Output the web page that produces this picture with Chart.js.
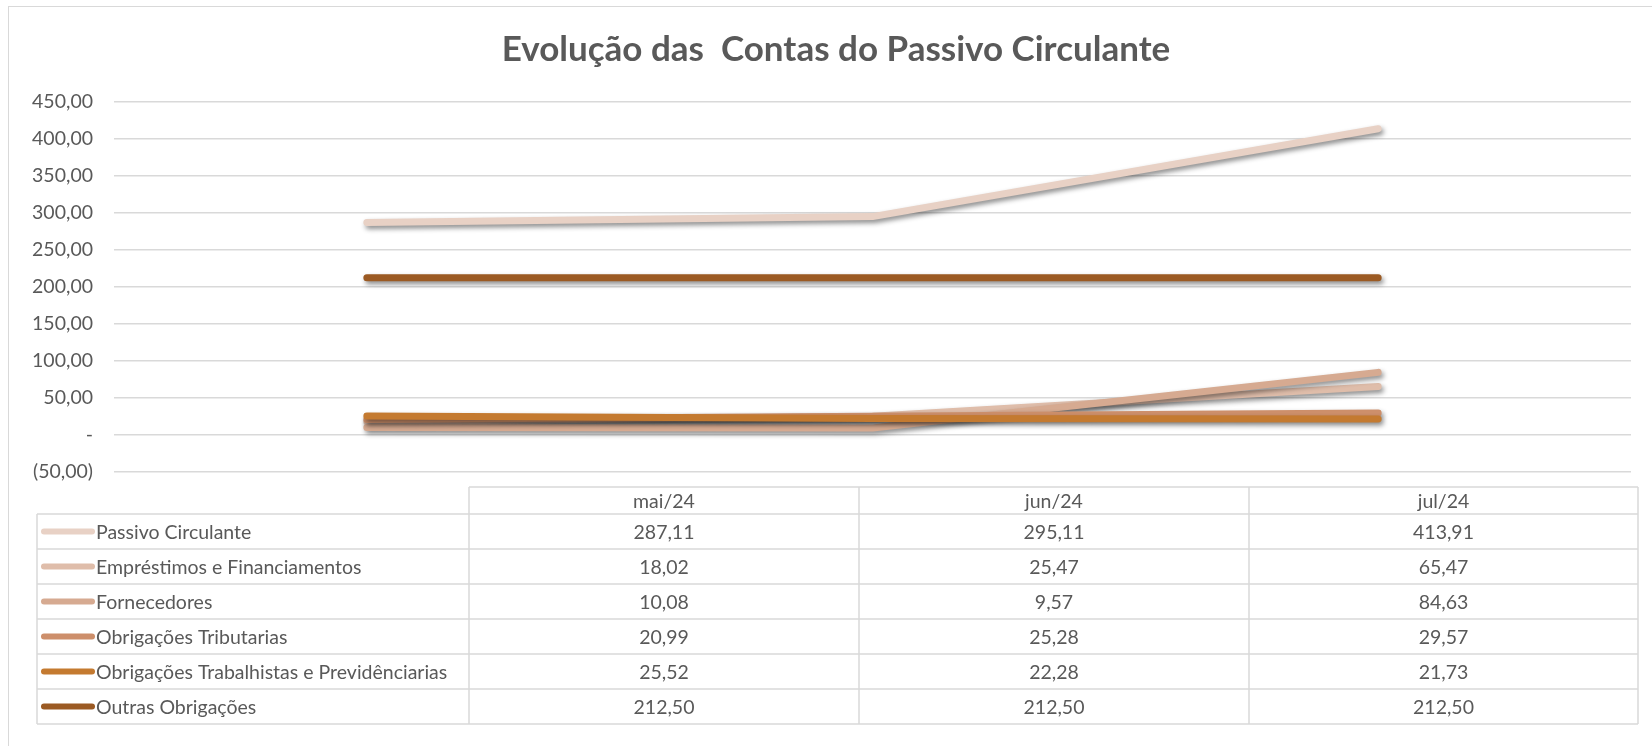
<!DOCTYPE html>
<html>
<head>
<meta charset="utf-8">
<script src="https://cdn.jsdelivr.net/npm/chart.js@4.4.1/dist/chart.umd.min.js"></script>
<style>
  html, body { margin: 0; padding: 0; background: #fff; }
  #frame {
    position: absolute; left: 8px; top: 6px; width: 1700px; height: 800px;
    border: 1.5px solid #d9d9d9; box-sizing: border-box;
  }
  #chartPassivo { position: absolute; left: 0; top: 0; }
</style>
</head>
<body>
<div id="frame"></div>
<canvas id="chartPassivo" width="1652" height="746"></canvas>
<script>
const months = ['mai/24', 'jun/24', 'jul/24'];

const seriesNames = [
    'Passivo Circulante',
    'Empréstimos e Financiamentos',
    'Fornecedores',
    'Obrigações Tributarias',
    'Obrigações Trabalhistas e Previdênciarias',
    'Outras Obrigações'
];

const passivoCirculante = [287.11, 295.11, 413.91];
const emprestimos = [18.02, 25.47, 65.47];
const fornecedores = [10.08, 9.57, 84.63];
const obrigTributarias = [20.99, 25.28, 29.57];
const obrigTrabalhistas = [25.52, 22.28, 21.73];
const outrasObrigacoes = [212.50, 212.50, 212.50];

const seriesColors = ['#e8d1c5', '#dfbdaa', '#d6aa91', '#cd8f6b', '#c47a30', '#9b5a23'];

const yTicks = { min: -50, max: 450, step: 50 };

const allSeries = [passivoCirculante, emprestimos, fornecedores, obrigTributarias, obrigTrabalhistas, outrasObrigacoes];

const FONT = 'Lato, "Open Sans", sans-serif';
const TEXT_COLOR = '#595959';

function fmtBR(v) {
    return v.toFixed(2).replace('.', ',');
}

function fmtAxis(v) {
    if (v === 0) return '-';
    if (v < 0) return '(' + fmtBR(-v) + ')';
    return fmtBR(v);
}

// sombra das linhas, como no Excel
const lineShadow = {
    id: 'lineShadow',
    beforeDatasetDraw(chart) {
        const ctx = chart.ctx;
        ctx.save();
        ctx.shadowColor = 'rgba(0, 0, 0, 0.45)';
        ctx.shadowBlur = 5;
        ctx.shadowOffsetX = 2;
        ctx.shadowOffsetY = 3;
    },
    afterDatasetDraw(chart) {
        chart.ctx.restore();
    }
};

// titulo
const titlePlugin = {
    id: 'titlePlugin',
    afterDraw(chart) {
        const ctx = chart.ctx;
        ctx.save();
        ctx.font = 'bold 35px ' + FONT;
        ctx.fillStyle = TEXT_COLOR;
        ctx.textAlign = 'center';
        ctx.textBaseline = 'middle';
        ctx.fillText('Evolução das  Contas do Passivo Circulante', 836, 50);
        ctx.restore();
    }
};

// tabela de dados abaixo do grafico
const dataTable = {
    id: 'dataTable',
    afterDraw(chart) {
        const ctx = chart.ctx;
        const cols = [37, 469, 859, 1249, 1638];
        const headTop = 487;
        const rowTop = 514;
        const rowH = 35;
        const nRows = seriesNames.length;
        const bottom = rowTop + rowH * nRows;

        ctx.save();
        ctx.strokeStyle = '#d9d9d9';
        ctx.lineWidth = 1.5;
        ctx.beginPath();
        ctx.moveTo(cols[1], headTop);
        ctx.lineTo(cols[4], headTop);
        for (let r = 0; r <= nRows; r++) {
            const y = rowTop + r * rowH;
            ctx.moveTo(cols[0], y);
            ctx.lineTo(cols[4], y);
        }
        ctx.moveTo(cols[0], rowTop);
        ctx.lineTo(cols[0], bottom);
        for (let c = 1; c < cols.length; c++) {
            ctx.moveTo(cols[c], headTop);
            ctx.lineTo(cols[c], bottom);
        }
        ctx.stroke();

        ctx.font = '19.5px ' + FONT;
        ctx.fillStyle = TEXT_COLOR;
        ctx.textBaseline = 'middle';
        ctx.textAlign = 'center';
        months.forEach((m, i) => {
            ctx.fillText(m, (cols[i + 1] + cols[i + 2]) / 2, (headTop + rowTop) / 2 + 1);
        });

        seriesNames.forEach((name, r) => {
            const yc = rowTop + r * rowH + rowH / 2 + 1;
            // legenda
            ctx.strokeStyle = seriesColors[r];
            ctx.lineWidth = 6;
            ctx.lineCap = 'round';
            ctx.beginPath();
            ctx.moveTo(44, yc - 1);
            ctx.lineTo(92, yc - 1);
            ctx.stroke();

            ctx.textAlign = 'left';
            ctx.fillText(name, 96, yc);
            ctx.textAlign = 'center';
            allSeries[r].forEach((v, i) => {
                ctx.fillText(fmtBR(v), (cols[i + 1] + cols[i + 2]) / 2, yc);
            });
        });
        ctx.restore();
    }
};

const ctx = document.getElementById('chartPassivo').getContext('2d');

new Chart(ctx, {
    type: 'line',
    data: {
        labels: months,
        datasets: seriesNames.map((name, i) => ({
            label: name,
            data: allSeries[i],
            borderColor: seriesColors[i],
            backgroundColor: seriesColors[i],
            borderWidth: 7,
            borderCapStyle: 'round',
            borderJoinStyle: 'round',
            pointRadius: 0,
            tension: 0,
            order: seriesNames.length - i // Excel desenha a ultima serie por cima
        }))
    },
    options: {
        responsive: false,
        animation: false,
        layout: {
            padding: { left: 0, right: 21, top: 102, bottom: 274 }
        },
        plugins: {
            legend: { display: false },
            title: { display: false },
            tooltip: { enabled: false }
        },
        scales: {
            x: {
                display: false,
                offset: true
            },
            y: {
                min: yTicks.min,
                max: yTicks.max,
                afterFit(scale) {
                    scale.width = 114;
                },
                ticks: {
                    stepSize: yTicks.step,
                    padding: 21,
                    color: TEXT_COLOR,
                    font: { family: FONT, size: 19.5 },
                    callback: v => fmtAxis(v)
                },
                grid: {
                    color: '#d9d9d9',
                    lineWidth: 1.5,
                    drawTicks: false
                },
                border: { display: false }
            }
        }
    },
    plugins: [lineShadow, titlePlugin, dataTable]
});
</script>
</body>
</html>
